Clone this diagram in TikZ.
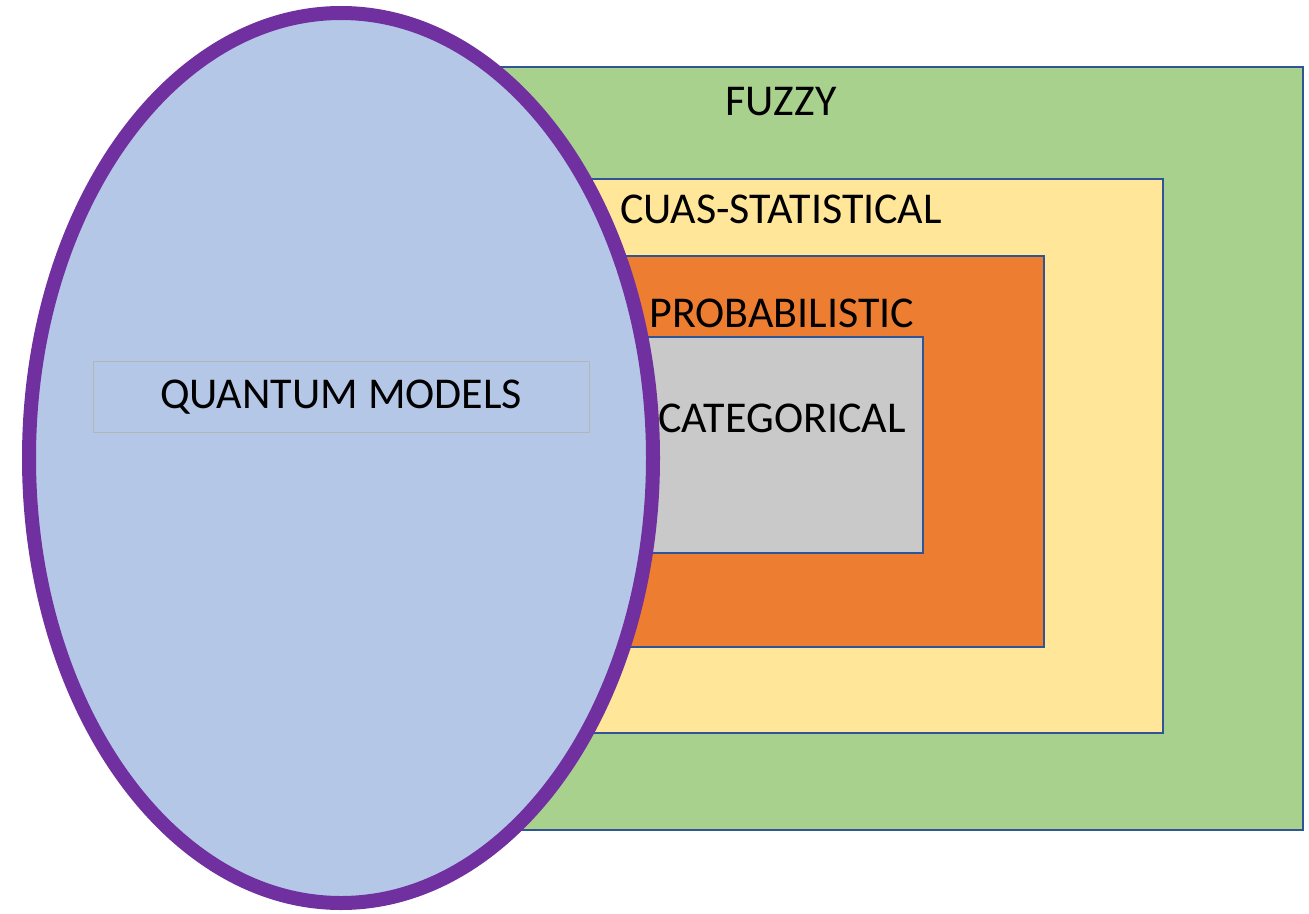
\documentclass[tikz,border=0pt]{standalone}
\usepackage{fontspec}
\setmainfont{Carlito}
\usepackage{tikz}

\definecolor{fuzzyfill}{HTML}{A9D18E}
\definecolor{cuasfill}{HTML}{FFE699}
\definecolor{probfill}{HTML}{ED7D31}
\definecolor{catfill}{HTML}{C9C9C9}
\definecolor{quantfill}{HTML}{B4C7E7}
\definecolor{quantedge}{HTML}{7030A0}
\definecolor{boxedge}{HTML}{2F5597}

\tikzset{
  setbox/.style={draw=boxedge, line width=2pt},
  setlabel/.style={font=\fontsize{44}{52}\selectfont, inner sep=0pt}
}

\begin{document}
\begin{tikzpicture}[x=1pt,y=-1pt]
\useasboundingbox (0,0) rectangle (1309,913);

% nested model classes
\filldraw[setbox, fill=fuzzyfill] (420,67) rectangle (1303,830);
\filldraw[setbox, fill=cuasfill] (500,179) rectangle (1163,733);
\filldraw[setbox, fill=probfill] (560,256) rectangle (1044,647);
\filldraw[setbox, fill=catfill] (600,337) rectangle (923,553);

\node[setlabel] (fuzzy) at (781,102) {FUZZY};
\node[setlabel] (cuas) at (781,209) {CUAS-STATISTICAL};
\node[setlabel] (prob) at (782,313) {PROBABILISTIC};
\node[setlabel] (cat) at (782,418) {CATEGORICAL};

% quantum models
\filldraw[fill=quantfill, draw=quantedge, line width=14pt] (341,458) ellipse (312 and 445);
\node[setlabel, draw=catfill!90!black, line width=1pt, minimum width=496, minimum height=71] (quant) at (341,397) {QUANTUM MODELS};
\end{tikzpicture}
\end{document}
